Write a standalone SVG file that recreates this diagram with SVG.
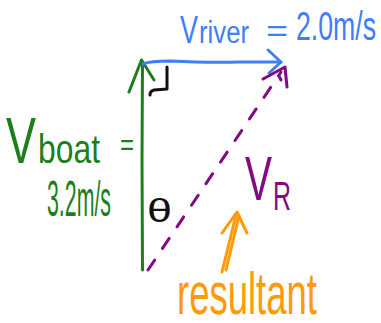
<svg xmlns="http://www.w3.org/2000/svg" width="381" height="323" viewBox="0 0 381 323">
<style>
.s{fill:none;stroke-width:3;stroke-linecap:round;stroke-linejoin:round}
.g{stroke:#1b7f1b}.b{stroke:#3f7ef4}.p{stroke:#820a82}.o{stroke:#ff9a0a}.k{stroke:#111}
text{font-family:"Liberation Sans",Arial,sans-serif}
.tg{fill:#1b7f1b}.tb{fill:#3f7ef4}.tp{fill:#820a82}.to{fill:#ff9a0a}.tk{fill:#111}
</style>
<rect width="381" height="323" fill="#fff"/>
<g id="connectors">
  <g id="v-boat">
    <path class="s g" d="M142.5 270 L142 160 L142.5 62"/>
    <path class="s g" d="M129 92 L141.5 60 L154 80"/>
  </g>
  <g id="v-river">
    <path class="s b" d="M143 64 Q150 61 170 61 Q210 63 240 62 L281 62"/>
    <path class="s b" d="M268 50 L281 62 L269 73"/>
  </g>
  <g id="v-resultant">
    <path class="s p" stroke-dasharray="12 14" d="M148 270 L281 72"/>
    <path class="s p" d="M263 79 L285 67 L287 87"/>
    <path class="s p" d="M279 76 L281 80"/>
  </g>
  <g id="right-angle">
    <path class="s k" d="M167 67 L167 89 L154 90 Q150 91 150 95"/>
  </g>
  <g id="resultant-pointer">
    <path class="s o" d="M222 272 L236 215 M226 270 L239 216"/>
    <path class="s o" d="M222 233 L237 212 L247 233"/>
  </g>
</g>
<g id="label-vriver">
  <text class="tb" x="180" y="43" font-size="39" textLength="18" lengthAdjust="spacingAndGlyphs">V</text>
  <text class="tb" x="199" y="43" font-size="31" textLength="50" lengthAdjust="spacingAndGlyphs">river</text>
  <text class="tb" x="266" y="41" font-size="30" textLength="22" lengthAdjust="spacingAndGlyphs">=</text>
  <text class="tb" x="296" y="40" font-size="41" textLength="80" lengthAdjust="spacingAndGlyphs">2.0m/s</text>
</g>
<g id="label-vboat">
  <text class="tg" x="6" y="163" font-size="64" textLength="30" lengthAdjust="spacingAndGlyphs">V</text>
  <text class="tg" x="38" y="163" font-size="40" textLength="62" lengthAdjust="spacingAndGlyphs">boat</text>
  <text class="tg" x="120" y="155" font-size="30" textLength="14" lengthAdjust="spacingAndGlyphs">=</text>
  <text class="tg" x="47" y="216" font-size="50" textLength="64" lengthAdjust="spacingAndGlyphs">3.2m/s</text>
</g>
<g id="label-theta">
  <text class="tk" x="147" y="222" font-size="34" textLength="25" lengthAdjust="spacingAndGlyphs">θ</text>
</g>
<g id="label-vr">
  <text class="tp" x="245" y="200" font-size="63" textLength="27" lengthAdjust="spacingAndGlyphs">V</text>
  <text class="tp" x="273" y="210" font-size="40" textLength="18" lengthAdjust="spacingAndGlyphs">R</text>
</g>
<g id="label-resultant">
  <text class="to" x="177" y="314" font-size="60" textLength="140" lengthAdjust="spacingAndGlyphs">resultant</text>
</g>
</svg>
